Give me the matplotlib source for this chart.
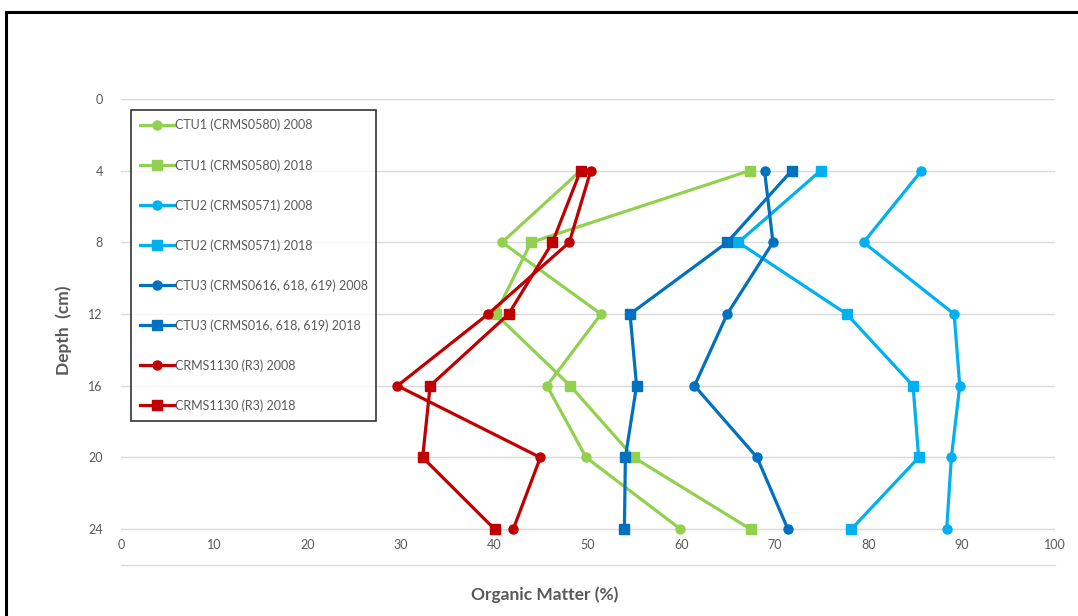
import matplotlib.pyplot as plt
from matplotlib.patches import Rectangle

plt.rcParams['font.family'] = ['Lato', 'DejaVu Sans']

depth = [4, 8, 12, 16, 20, 24]

ctu1_2008 = [49.2, 40.8, 51.4, 45.6, 49.8, 59.9]
ctu1_2018 = [67.3, 43.9, 40.1, 48.1, 54.9, 67.4]
ctu2_2008 = [85.7, 79.5, 89.2, 89.8, 88.9, 88.4]
ctu2_2018 = [74.9, 66.1, 77.7, 84.8, 85.4, 78.2]
ctu3_2008 = [68.9, 69.8, 64.9, 61.4, 68.1, 71.4]
ctu3_2018 = [71.8, 64.9, 54.5, 55.2, 54.0, 53.9]
crms1130_2008 = [50.3, 48.0, 39.3, 29.6, 44.9, 42.0]
crms1130_2018 = [49.2, 46.2, 41.5, 33.1, 32.3, 40.0]

series = [
    ('CTU1 (CRMS0580) 2008', ctu1_2008, '#92D050', 'o'),
    ('CTU1 (CRMS0580) 2018', ctu1_2018, '#92D050', 's'),
    ('CTU2 (CRMS0571) 2008', ctu2_2008, '#00B0F0', 'o'),
    ('CTU2 (CRMS0571) 2018', ctu2_2018, '#00B0F0', 's'),
    ('CTU3 (CRMS0616, 618, 619) 2008', ctu3_2008, '#0070C0', 'o'),
    ('CTU3 (CRMS016, 618, 619) 2018', ctu3_2018, '#0070C0', 's'),
    ('CRMS1130 (R3) 2008', crms1130_2008, '#C00000', 'o'),
    ('CRMS1130 (R3) 2018', crms1130_2018, '#C00000', 's'),
]

fig = plt.figure(figsize=(10.78, 6.16), dpi=100)
ax = fig.add_axes([0.1122, 0.0828, 0.8665, 0.7565])

for name, vals, col, mk in series:
    ax.plot(vals, depth, color=col, marker=mk, lw=2.3, ms=6.5, label=name, zorder=3)

ax.set_xlim(0, 100)
ax.set_ylim(26, 0)
ax.set_xticks(range(0, 101, 10))
ax.set_yticks(range(0, 25, 4))
ax.grid(axis='y', color='#d9d9d9', lw=1)
ax.set_axisbelow(True)
for s in ['top', 'left', 'right']:
    ax.spines[s].set_visible(False)
ax.spines['bottom'].set_color('#d9d9d9')
ax.spines['bottom'].set_linewidth(1)
ax.tick_params(axis='x', length=0, pad=-19, labelsize=9, labelcolor='#595959')
ax.tick_params(axis='y', length=0, pad=13, labelsize=9, labelcolor='#595959')

leg = ax.legend(loc='upper left', bbox_to_anchor=(0.0107, 0.976), borderaxespad=0,
                fancybox=False, frameon=True, fontsize=9, labelspacing=2.2,
                handlelength=2.75, handletextpad=0.05, borderpad=0.7)
leg.get_frame().set_edgecolor('black')
leg.get_frame().set_linewidth(1.2)
for t in leg.get_texts():
    t.set_color('#595959')

fig.text(0.059, 0.464, 'Depth  (cm)', rotation=90, ha='center', va='center',
         fontsize=12.5, fontweight='bold', color='#595959')
fig.text(0.505, 0.034, 'Organic Matter (%)', ha='center', va='center',
         fontsize=12.5, fontweight='bold', color='#595959')

fig.patches.append(Rectangle((0.006, -0.05), 1.1, 1.03, transform=fig.transFigure,
                             fill=False, edgecolor='black', lw=2.2))

fig.savefig('out.png', dpi=100, facecolor='white')
